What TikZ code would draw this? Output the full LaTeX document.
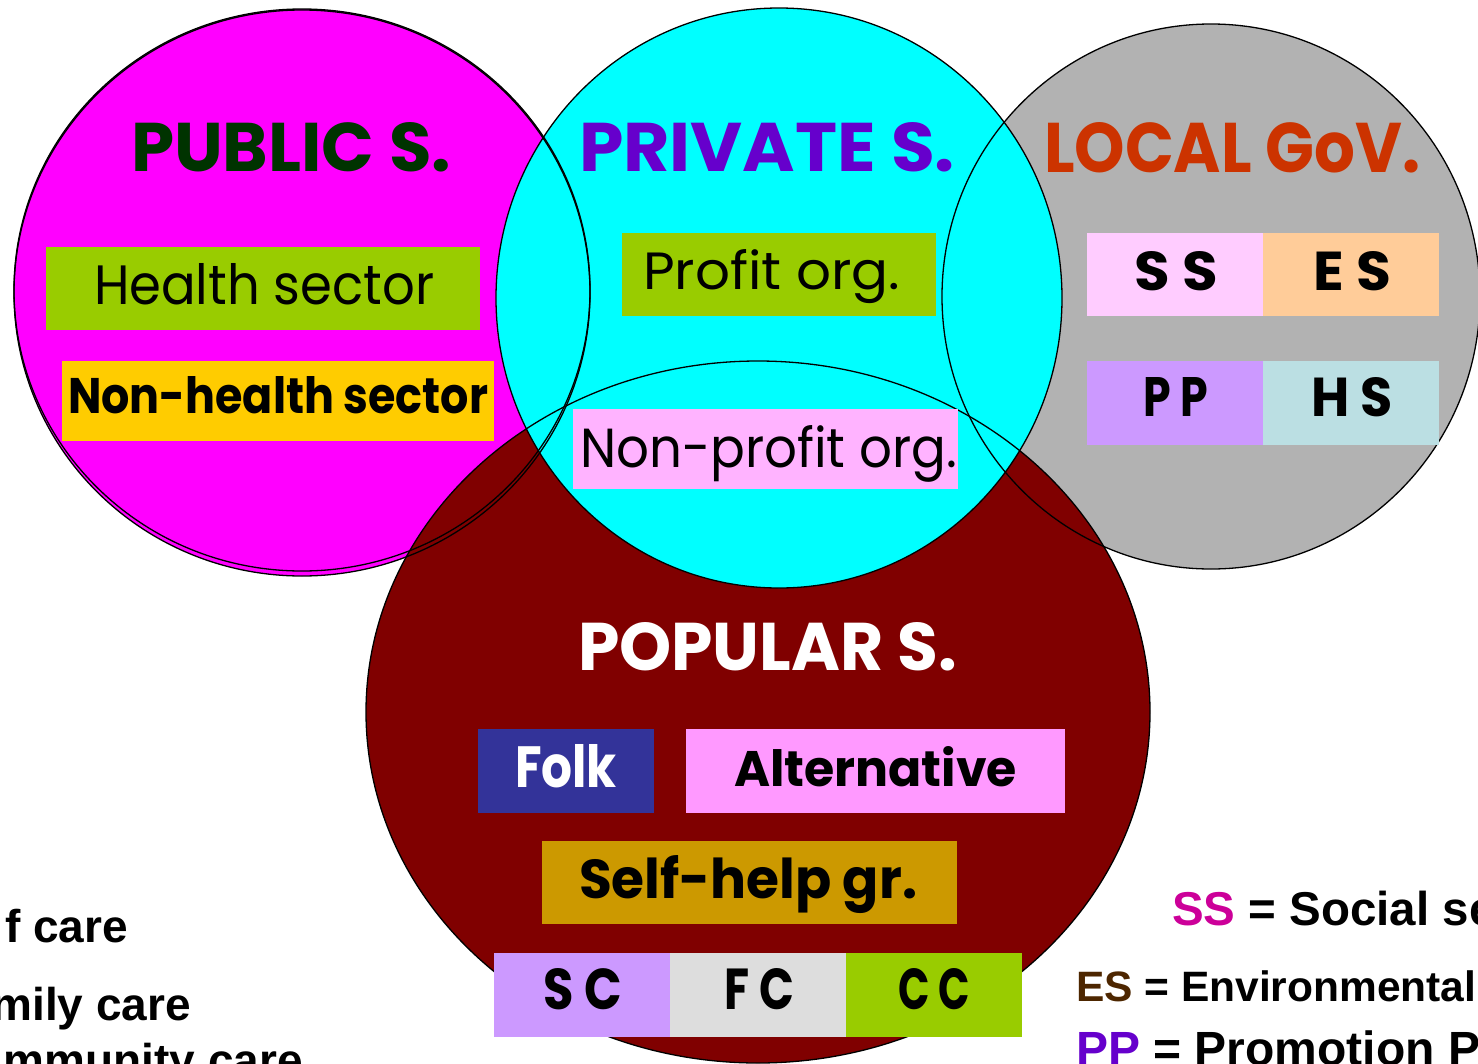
\documentclass[tikz,border=0pt]{standalone}
\usepackage{fontspec}
\usepackage{graphicx}
\setmainfont{Liberation Sans}
\newfontfamily\comic{Poppins}
\definecolor{cmag}{HTML}{FF00FF}
\definecolor{ccyan}{HTML}{00FFFF}
\definecolor{cgray}{HTML}{B2B2B2}
\definecolor{cdred}{HTML}{800000}
\definecolor{cgreen}{HTML}{99CC00}
\definecolor{cyell}{HTML}{FFCC00}
\definecolor{cnpink}{HTML}{FFB3FF}
\definecolor{cspink}{HTML}{FFCCFF}
\definecolor{cpeach}{HTML}{FFCC99}
\definecolor{clila}{HTML}{CC99FF}
\definecolor{chs}{HTML}{BBDFE3}
\definecolor{cfolk}{HTML}{333399}
\definecolor{calt}{HTML}{FF99FF}
\definecolor{cself}{HTML}{CC9900}
\definecolor{cfc}{HTML}{DDDDDD}
\definecolor{tpub}{HTML}{003300}
\definecolor{tpriv}{HTML}{6600CC}
\definecolor{tloc}{HTML}{CC3300}
\definecolor{lss}{HTML}{CC0099}
\definecolor{les}{HTML}{4D2600}
\definecolor{lpp}{HTML}{6600CC}
\newcommand\fitt[3]{\resizebox{#1pt}{#2pt}{#3}}
\newcommand\lsp{\hspace{0.22em}}
\tikzset{
  ring/.style={draw=black, line width=1.3pt},
  lbl/.style={inner sep=0pt, outer sep=0pt, anchor=base west},
  leg/.style={inner sep=0pt, outer sep=0pt, font=\bfseries},
  boxs/.style={inner sep=0pt, outer sep=0pt, draw=none, anchor=north west},
}
\newcommand\cbox[6]{\node[boxs, fill=#2, minimum width=#5pt, minimum height=#6pt] (#1) at (#3,#4) {};}
\begin{document}
\begin{tikzpicture}[x=1pt,y=-1pt]
\useasboundingbox (0,0) rectangle (1478,1063);
% fills
\fill[cmag] (302,293) ellipse [x radius=288pt, y radius=283pt];
\fill[cmag] (302,290) ellipse [x radius=288pt, y radius=281pt];
\fill[cgray] (1211,296.5) ellipse [x radius=269pt, y radius=272.5pt];
\fill[cdred] (758,712) ellipse [x radius=392pt, y radius=351pt];
\fill[ccyan] (779,298) ellipse [x radius=283pt, y radius=290pt];
% outlines
\draw[ring] (302,293) ellipse [x radius=288pt, y radius=283pt];
\draw[ring] (302,290) ellipse [x radius=288pt, y radius=281pt];
\draw[ring] (1211,296.5) ellipse [x radius=269pt, y radius=272.5pt];
\draw[ring] (758,712) ellipse [x radius=392pt, y radius=351pt];
\draw[ring] (779,298) ellipse [x radius=283pt, y radius=290pt];
% boxes
\cbox{bhealth}{cgreen}{46}{247}{434}{83}
\cbox{bnonh}{cyell}{62}{361}{432}{80}
\cbox{bprofit}{cgreen}{622}{233}{314}{83}
\cbox{bnonp}{cnpink}{573}{409}{385}{80}
\cbox{bss}{cspink}{1087}{233}{176}{83}
\cbox{bes}{cpeach}{1263}{233}{176}{83}
\cbox{bpp}{clila}{1087}{361}{176}{84}
\cbox{bhs}{chs}{1263}{361}{176}{84}
\cbox{bfolk}{cfolk}{478}{729}{176}{84}
\cbox{balt}{calt}{686}{729}{379}{84}
\cbox{bself}{cself}{542}{841}{415}{83}
\cbox{bsc}{clila}{494}{953}{176}{84}
\cbox{bfc}{cfc}{670}{953}{176}{84}
\cbox{bcc}{cgreen}{846}{953}{176}{84}
% titles
\node[lbl, text=tpub] (tpublic) at (131,171) {\fitt{320}{49}{\comic\bfseries PUBLIC S.}};
\node[lbl, text=tpriv] (tprivate) at (579,171) {\fitt{376}{49}{\comic\bfseries PRIVATE S.}};
\node[lbl, text=tloc] (tlocal) at (1044,172) {\fitt{376}{50}{\comic\bfseries LOCAL GoV.}};
\node[lbl, text=white] (tpopular) at (578,670) {\fitt{379}{48}{\comic\bfseries POPULAR S.}};
% labels
\node[lbl] (lhealth) at (94,304) {\fitt{340}{41}{\comic Health sector}};
\node[lbl] (lnonh) at (68,413) {\fitt{420}{37}{\comic\bfseries Non-health sector}};
\node[lbl] (lprofit) at (643,289) {\fitt{257}{40}{\comic Profit org.}};
\node[lbl] (lnonp) at (580,467) {\fitt{377}{42}{\comic Non-profit org.}};
\node[lbl] (lss) at (1134,290) {\fitt{84}{39}{\comic\bfseries S\lsp S}};
\node[lbl] (les) at (1313,290) {\fitt{78}{39}{\comic\bfseries E\lsp S}};
\node[lbl] (lpp) at (1143,416) {\fitt{65}{39}{\comic\bfseries P\lsp P}};
\node[lbl] (lhs) at (1311,416) {\fitt{82}{39}{\comic\bfseries H\lsp S}};
\node[lbl, text=white] (lfolk) at (515,787) {\fitt{102}{43}{\comic\bfseries Folk}};
\node[lbl] (lalt) at (734,786) {\fitt{283}{40}{\comic\bfseries Alternative}};
\node[lbl] (lself) at (579,898) {\fitt{338}{43}{\comic\bfseries Self-help gr.}};
\node[lbl] (lsc) at (543,1009) {\fitt{79}{41}{\comic\bfseries S\lsp C}};
\node[lbl] (lfc) at (724,1009) {\fitt{70}{41}{\comic\bfseries F\lsp C}};
\node[lbl] (lcc) at (898,1009) {\fitt{72}{41}{\comic\bfseries C\lsp C}};
% legends
\node[leg, anchor=base east, font=\fontsize{46}{52}\selectfont\bfseries] (gself) at (128,942) {f care};
\node[leg, anchor=base east, font=\fontsize{46}{52}\selectfont\bfseries] (gfam) at (191,1020) {mily care};
\node[leg, anchor=base east, font=\fontsize{46}{52}\selectfont\bfseries] (gcom) at (303,1076) {mmunity care};
\node[leg, anchor=base west, font=\fontsize{47.5}{52}\selectfont\bfseries] (gss) at (1172,925) {\textcolor{lss}{SS} = Social se};
\node[leg, anchor=base west, font=\fontsize{42.5}{48}\selectfont\bfseries] (ges) at (1076,1001) {\textcolor{les}{ES} = Environmental};
\node[leg, anchor=base west, font=\fontsize{48}{52}\selectfont\bfseries] (gpp) at (1076,1065) {\textcolor{lpp}{PP} = Promotion P};
\end{tikzpicture}
\end{document}
